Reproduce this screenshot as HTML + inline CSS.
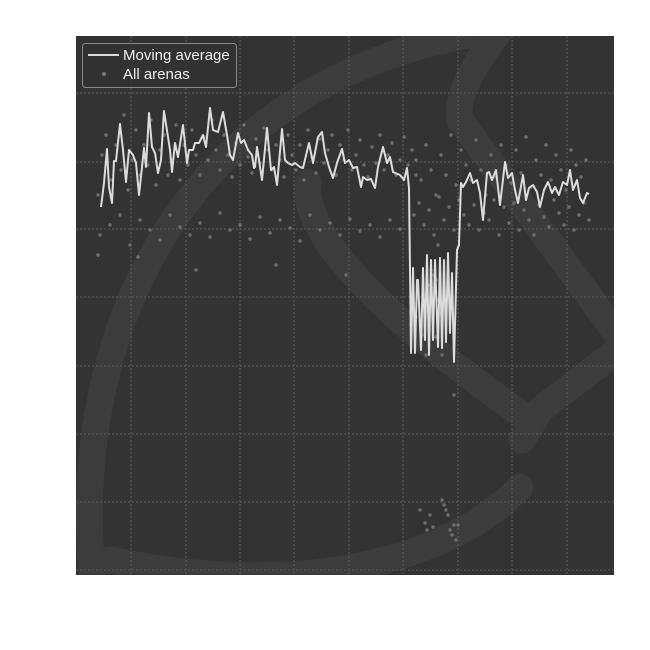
<!DOCTYPE html>
<html><head><meta charset="utf-8"><style>
html,body{margin:0;padding:0;background:#fff;width:650px;height:650px;overflow:hidden}
svg{display:block;font-family:"Liberation Sans",sans-serif}
</style></head><body>
<svg id="chart" width="650" height="650">
<defs><clipPath id="pc"><rect x="76" y="36" width="538" height="539"/></clipPath></defs>
<rect x="76" y="36" width="538" height="539" fill="#333333"/>
<g clip-path="url(#pc)" fill="none" stroke="#3c3c3c" stroke-width="27" stroke-linecap="round">
<path d="M95 600 C 60 330, 190 70, 500 30"/>
<path d="M500 30 C 470 70, 455 100, 460 120 L 625 345"/>
<path d="M625 345 L 540 410 L 522 440"/>
<path d="M308 182 C 300 240, 400 330, 530 420"/>
<path d="M110 560 C 300 600, 450 560, 520 487"/>
</g>
<g id="grid"></g>
<g id="points"></g>
<path id="maline" fill="none" stroke="#dcdcdc" stroke-width="2" stroke-linejoin="round"/>
<g>
<rect x="82.5" y="43.5" width="154" height="44" rx="3" fill="#333" fill-opacity="0.85" stroke="#8a8a8a"/>
<line x1="88" y1="55" x2="119" y2="55" stroke="#dcdcdc" stroke-width="2"/>
<text x="123" y="60" font-size="15" fill="#f0f0f0">Moving average</text>
<circle cx="104" cy="74" r="2" fill="#777"/>
<text x="123" y="79" font-size="15" fill="#f0f0f0">All arenas</text>
</g>
</svg>
<script>
const xTicks=[55,110,164,218,273,327,382,436,491];
const yTicks=[5,73,141,209,278,346,413,482];
const maX=[25,28,31,33,36,38,40,44,47,50,53,57,60,63,66,68,70,73,76,79,82,85,88,92,94,96,99,102,107,111,113,117,119,123,127,130,134,137,142,147,151,154,157,162,165,168,172,176,178,
179,181,186,191,195,198,201,206,209,212,216,219,224,227,233,237,242,246,249,253,257,261,266,269,273,277,281,285,287,291,295,299,302,307,311,314,317,324,328,331,333,
335,337,339,341,342,345,347,349,351,353,355,357,359,362,364,366,368,370,372,374,376,378,381,383,385,387,390,394,397,401,404,407,411,413,416,420,424,429,432,436,439,442,447,450,453,457,461,464,468,472,476,479,483,487,491,494,497,501,504,507,511,513];
const maY=[368,392,426,388,372,414,414,451,425,393,425,420,412,380,408,427,408,462,428,422,402,415,464,438,425,403,432,418,450,412,425,425,432,432,440,428,467,445,443,463,440,420,415,442,432,435,425,420,407,
408,428,395,447,405,408,390,446,415,412,410,412,408,407,432,412,438,443,422,408,397,412,426,412,415,407,408,388,398,395,396,387,408,428,412,418,403,400,395,407,387,
222,307,222,295,295,225,307,235,320,220,315,235,315,228,317,227,315,233,322,242,302,213,325,330,392,388,393,402,392,395,382,355,402,403,395,405,370,413,397,402,385,372,400,375,387,390,383,368,385,393,382,388,380,393,390,405,385,395,377,372,382,381];
const ptX=[22,26,30,35,40,45,48,52,56,60,64,68,72,75,80,84,88,92,96,100,104,108,112,116,120,124,128,132,136,140,144,148,152,156,160,164,168,172,176,180,184,188,192,196,200,204,208,212,216,220,224,228,232,236,240,244,248,252,256,260,264,268,272,276,280,284,288,292,296,300,304,308,312,316,320,324,328,332,336,340,
24,34,44,54,64,74,84,94,104,114,124,134,144,154,164,174,184,194,204,214,224,234,244,254,264,274,284,294,304,314,324,
340,345,350,355,360,365,370,375,380,385,390,395,400,405,410,415,420,425,430,435,440,445,450,455,460,465,470,475,480,485,490,495,500,505,510,
338,343,348,353,358,363,368,373,378,383,388,393,398,403,408,413,418,423,428,433,438,443,448,453,458,463,468,473,478,483,488,493,498,503,508,513,
22,62,120,200,270,
335,340,345,350,352,355,358,360,362,364,366,368,370,372,374,376,378,380,382,346,360,378,362,370,366,357,354,351,349,344];
const ptY=[380,420,440,395,430,405,460,385,415,445,400,430,410,455,390,425,440,400,415,450,395,430,410,445,420,400,438,415,455,425,405,440,420,398,432,410,450,418,402,436,412,447,425,405,430,415,398,440,420,405,430,395,445,418,402,436,412,425,440,400,430,415,445,405,420,435,410,398,428,412,440,405,420,432,400,415,438,410,425,400,
340,350,360,330,355,345,335,360,348,340,352,338,362,345,350,336,358,342,355,347,334,360,345,352,340,356,344,350,338,355,346,
415,395,430,405,380,420,400,440,390,425,410,395,435,405,380,420,398,430,410,392,425,402,438,388,415,400,430,395,420,405,385,425,410,398,415,
360,372,350,365,340,378,355,368,345,375,360,350,370,345,362,355,375,340,368,352,372,345,365,355,340,370,358,348,375,362,350,368,345,360,372,355,
320,318,305,310,300,
250,258,230,220,290,305,300,295,330,262,75,70,65,60,45,40,50,35,50,240,238,180,275,268,220,48,60,45,52,65];
const X0=76,Y0=575;
function xs(v){return X0+v*538/538;}
function ys(v){return Y0-v*539/539;}
const NS='http://www.w3.org/2000/svg';
const grid=document.getElementById('grid');
xTicks.forEach(t=>{const l=document.createElementNS(NS,'line');
l.setAttribute('x1',xs(t));l.setAttribute('x2',xs(t));l.setAttribute('y1',36);l.setAttribute('y2',575);
l.setAttribute('stroke','#5c5c5c');l.setAttribute('stroke-dasharray','2,2');


grid.appendChild(l);});
yTicks.forEach(t=>{const l=document.createElementNS(NS,'line');
l.setAttribute('y1',ys(t));l.setAttribute('y2',ys(t));l.setAttribute('x1',76);l.setAttribute('x2',614);
l.setAttribute('stroke','#5c5c5c');l.setAttribute('stroke-dasharray','2,2');


grid.appendChild(l);});
const pg=document.getElementById('points');
for(let i=0;i<ptX.length;i++){const c=document.createElementNS(NS,'circle');
c.setAttribute('cx',xs(ptX[i]));c.setAttribute('cy',ys(ptY[i]));c.setAttribute('r',1.7);c.setAttribute('fill','#6e6e6e');


pg.appendChild(c);}
let d='';for(let i=0;i<maX.length;i++){d+=(i?'L':'M')+xs(maX[i]).toFixed(1)+' '+ys(maY[i]).toFixed(1);}
document.getElementById('maline').setAttribute('d',d);
</script>
</body></html>
